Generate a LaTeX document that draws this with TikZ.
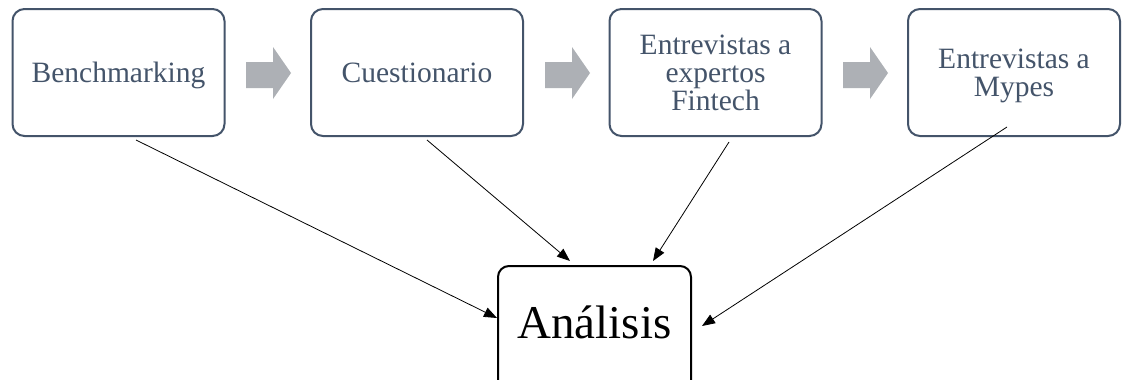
\documentclass[tikz,border=0pt]{standalone}
\usepackage{fontspec}
\setmainfont{Liberation Serif}
\usetikzlibrary{arrows.meta}
\definecolor{boxblue}{HTML}{44546A}
\definecolor{arrowgray}{HTML}{ADB0B5}
\begin{document}
\begin{tikzpicture}[x=1pt,y=-1pt,
  stage/.style={draw=boxblue, line width=2pt, rounded corners=12pt, minimum width=212pt, minimum height=127pt,
    text=boxblue, align=center, font=\fontsize{29.5}{28}\selectfont, inner sep=0pt, text depth=0pt},
  result/.style={draw=black, line width=2pt, rounded corners=11pt, minimum width=193pt, minimum height=140pt},
  conn/.style={draw=black, line width=0.8pt, -{Triangle[length=13pt,width=10pt]}},
  blockarrow/.style={fill=arrowgray, draw=none}]
\clip (0,0) rectangle (1122,380);
\fill[white] (0,0) rectangle (1122,380);
\node[stage] (b1) at (118.5,72.5) {Benchmarking};
\node[stage] (b2) at (417,72.5) {Cuestionario};
\node[stage] (b3) at (715.5,72.5) {Entrevistas a\\expertos\\Fintech};
\node[stage] (b4) at (1014,72.5) {Entrevistas a\\Mypes};
\foreach \x in {246,545,843}{
  \fill[blockarrow] (\x,62) -- (\x+27,62) -- (\x+27,47) -- (\x+45,73) -- (\x+27,99) -- (\x+27,88) -- (\x,88) -- cycle;
}
\node[result] (an) at (594.5,336) {};
\node[font=\fontsize{47}{50}\selectfont, inner sep=0pt, text depth=0pt] (antext) at (594.5,322.5) {Análisis};
\coordinate (s1) at (136,140);
\coordinate (s2) at (427,140);
\coordinate (s3) at (729,142);
\coordinate (s4) at (1007,127);
\coordinate (t1) at (497,318);
\coordinate (t2) at (570,261);
\coordinate (t3) at (653,261);
\coordinate (t4) at (702,326);
\draw[conn] (s1) -- (t1);
\draw[conn] (s2) -- (t2);
\draw[conn] (s3) -- (t3);
\draw[conn] (s4) -- (t4);
\end{tikzpicture}
\end{document}
